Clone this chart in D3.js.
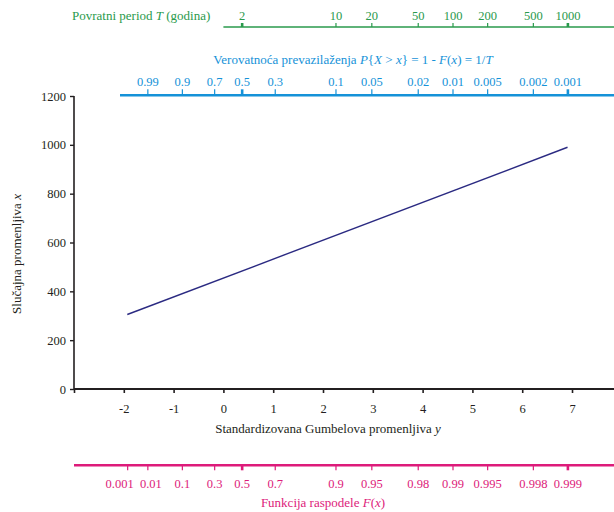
<!DOCTYPE html>
<html>
<head>
<meta charset="utf-8">
<script src="https://cdn.jsdelivr.net/npm/d3@7"></script>
<style>
  body { margin: 0; background: #fff; }
  svg, svg text { font-family: "Liberation Serif", "DejaVu Serif", serif; }
  .tick text { font-size: 12.5px; }
</style>
</head>
<body>
<div id="chart"></div>
<script>
// Data
const returnPeriods = [2, 10, 20, 50, 100, 200, 500, 1000];
const exceedance = [0.99, 0.9, 0.7, 0.5, 0.3, 0.1, 0.05, 0.02, 0.01, 0.005, 0.002, 0.001];
const cdfValues = [0.001, 0.01, 0.1, 0.3, 0.5, 0.7, 0.9, 0.95, 0.98, 0.99, 0.995, 0.998, 0.999];
const gumbelTicks = [-3, -2, -1, 0, 1, 2, 3, 4, 5, 6, 7];
const valueTicks = [0, 200, 400, 600, 800, 1000, 1200];
// line: reduced variate y vs. random variable x
const lineY = [-1.93, 6.91];
const lineX = [305, 990];

const width = 614;
const height = 512;
const serif = '"Liberation Serif", "DejaVu Serif", serif';

const black = '#231f20';
const green = '#2a9a4c';
const blue = '#1592d8';
const pink = '#dd1b7a';
const navy = '#2b2a82';

// reduced Gumbel variate from cumulative probability
const gumbel = F => -Math.log(-Math.log(F));

const svg = d3.select('#chart')
    .append('svg')
    .attr('width', width)
    .attr('height', height);

const x = d3.scaleLinear().domain([-3, 7.843]).range([74, 614]);
const y = d3.scaleLinear().domain([0, 1200]).range([389, 96]);

function serifTicks(g) {
    g.attr('font-family', serif);
    g.selectAll('.tick text').style('font-family', serif);
}

function styleAxis(g, color, majors) {
    serifTicks(g);
    g.select('.domain').remove();
    g.selectAll('.tick line')
        .attr('stroke', color)
        .attr('stroke-width', (d, i) => majors.includes(i) ? 2.6 : 1.2);
    g.selectAll('.tick text').attr('fill', color);
}

// ---- green: return period T ----
const gGreen = svg.append('g').attr('transform', 'translate(0,27)');
gGreen.append('line')
    .attr('x1', x(0)).attr('x2', width)
    .attr('stroke', green).attr('stroke-width', 1.6);
gGreen.call(d3.axisTop(x)
        .tickValues(returnPeriods.map(T => gumbel(1 - 1 / T)))
        .tickFormat((d, i) => returnPeriods[i])
        .tickSize(4).tickPadding(3))
    .call(g => styleAxis(g, green, [0, returnPeriods.length - 1]));

svg.append('text')
    .attr('x', 72).attr('y', 20)
    .attr('fill', green).attr('font-size', 13)
    .html('Povratni period <tspan font-style="italic">T</tspan> (godina)');

// ---- blue: exceedance probability ----
const gBlue = svg.append('g').attr('transform', 'translate(0,95.3)');
gBlue.append('line')
    .attr('x1', 120).attr('x2', width)
    .attr('stroke', blue).attr('stroke-width', 2.6);
gBlue.call(d3.axisTop(x)
        .tickValues(exceedance.map(p => gumbel(1 - p)))
        .tickFormat((d, i) => exceedance[i])
        .tickSize(6).tickPadding(3))
    .call(g => styleAxis(g, blue, [3, exceedance.length - 1]));

svg.append('text')
    .attr('x', 353).attr('y', 64)
    .attr('text-anchor', 'middle')
    .attr('fill', blue).attr('font-size', 13)
    .html('Verovatnoća prevazilaženja <tspan font-style="italic">P</tspan>{<tspan font-style="italic">X</tspan> &gt; <tspan font-style="italic">x</tspan>} = 1 -  <tspan font-style="italic">F</tspan>(<tspan font-style="italic">x</tspan>) = 1/<tspan font-style="italic">T</tspan>');

// ---- black: main axes ----
const gX = svg.append('g').attr('transform', 'translate(0,389)');
gX.call(d3.axisBottom(x)
        .tickValues(gumbelTicks)
        .tickFormat(d => d === -3 ? '' : d)
        .tickSize(4).tickPadding(11))
    .call(serifTicks);
gX.select('.domain').attr('stroke', black).attr('stroke-width', 2)
    .attr('d', `M${x.range()[0]},0H${width}`);
gX.selectAll('.tick line').attr('stroke', black).attr('stroke-width', 1.6);
gX.selectAll('.tick text').attr('fill', black);

svg.append('text')
    .attr('x', 328).attr('y', 433)
    .attr('text-anchor', 'middle')
    .attr('fill', black).attr('font-size', 13)
    .html('Standardizovana Gumbelova promenljiva <tspan font-style="italic">y</tspan>');

const gY = svg.append('g').attr('transform', 'translate(74,0)');
gY.call(d3.axisLeft(y)
        .tickValues(valueTicks)
        .tickFormat(d => d)
        .tickSize(4).tickPadding(4))
    .call(serifTicks);
gY.select('.domain').attr('stroke', black).attr('stroke-width', 1.6)
    .attr('d', `M0,${y(1200)}V${y(0)}`);
gY.selectAll('.tick line').attr('stroke', black).attr('stroke-width', 1.4);
gY.selectAll('.tick text').attr('fill', black);

svg.append('text')
    .attr('transform', 'translate(21,254) rotate(-90)')
    .attr('text-anchor', 'middle')
    .attr('fill', black).attr('font-size', 13)
    .html('Slučajna promenljiva <tspan font-style="italic">x</tspan>');

// ---- pink: cumulative distribution F(x) ----
const gPink = svg.append('g').attr('transform', 'translate(0,465.3)');
gPink.append('line')
    .attr('x1', 74).attr('x2', width)
    .attr('stroke', pink).attr('stroke-width', 2.6);
gPink.call(d3.axisBottom(x)
        .tickValues(cdfValues.map(gumbel))
        .tickFormat((d, i) => cdfValues[i])
        .tickSize(5).tickPadding(9))
    .call(g => styleAxis(g, pink, [4, cdfValues.length - 1]));
// the two leftmost labels are nudged apart, as in the original
gPink.selectAll('.tick text')
    .attr('dx', (d, i) => i === 0 ? -8 : i === 1 ? 3 : 0);

svg.append('text')
    .attr('x', 323).attr('y', 507)
    .attr('text-anchor', 'middle')
    .attr('fill', pink).attr('font-size', 13)
    .html('Funkcija raspodele <tspan font-style="italic">F</tspan>(<tspan font-style="italic">x</tspan>)');

// ---- the Gumbel line ----
const lineData = lineY.map((v, i) => ({ y: v, x: lineX[i] }));
svg.append('path')
    .datum(lineData)
    .attr('fill', 'none')
    .attr('stroke', navy)
    .attr('stroke-width', 1.4)
    .attr('d', d3.line().x(d => x(d.y)).y(d => y(d.x)));
</script>
</body>
</html>
